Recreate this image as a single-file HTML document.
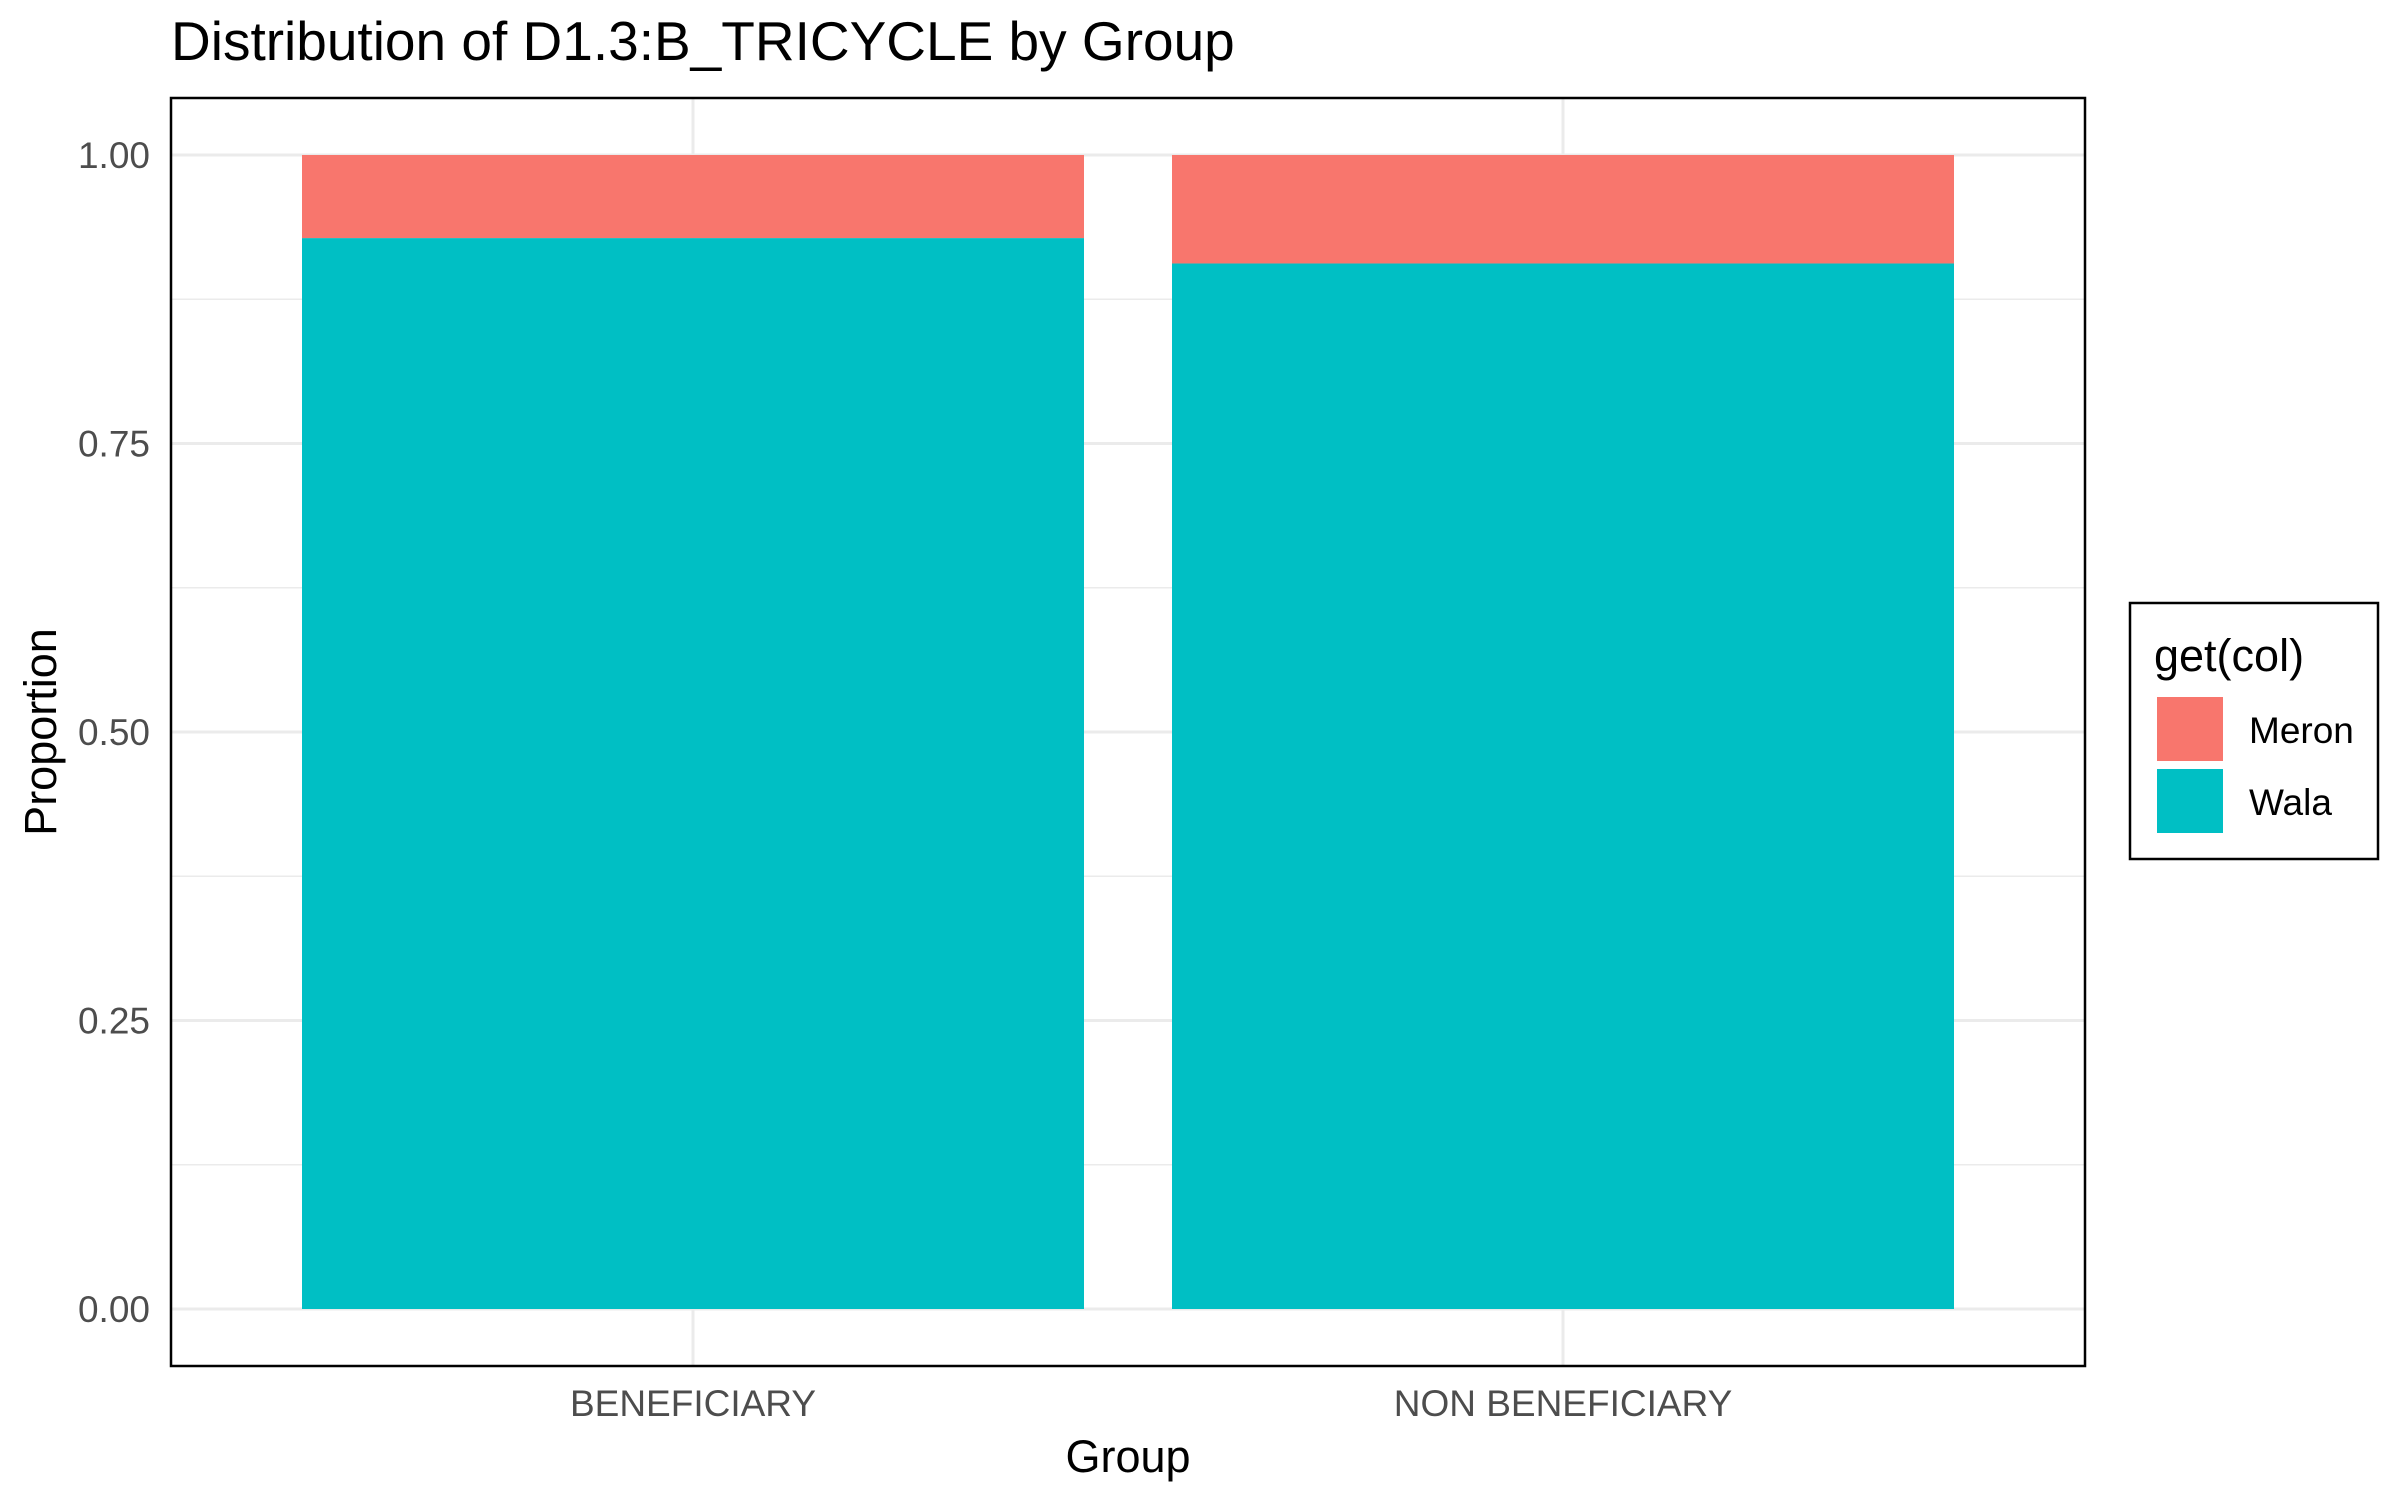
<!DOCTYPE html>
<html><head><meta charset="utf-8"><style>
html,body{margin:0;padding:0;background:#fff;}
svg{display:block;font-family:"Liberation Sans",Arial,sans-serif;}
</style></head><body>
<svg id="chart" width="2400" height="1500" viewBox="0 0 2400 1500">
<text x="171" y="60" font-size="55" fill="#000">Distribution of D1.3:B_TRICYCLE by Group</text>
<g id="grid"></g>
<g id="bars"></g>
<rect x="171" y="98" width="1914" height="1268" fill="none" stroke="#000" stroke-width="2.5"/>
<g id="yticks"></g>
<g id="xticks"></g>
<text x="1128" y="1472" font-size="45" text-anchor="middle" fill="#000">Group</text>
<text transform="translate(56,732) rotate(-90)" font-size="45" text-anchor="middle" fill="#000">Proportion</text>
<g>
<rect x="2130" y="603" width="248" height="256" fill="#fff" stroke="#000" stroke-width="2.5"/>
<text x="2154" y="671" font-size="45" fill="#000">get(col)</text>
<rect x="2157" y="697" width="66" height="64" fill="#F8766D"/>
<text x="2249" y="743" font-size="37" fill="#000">Meron</text>
<rect x="2157" y="769" width="66" height="64" fill="#00BFC4"/>
<text x="2249" y="815" font-size="37" fill="#000">Wala</text>
</g>
</svg>
<script>
const categories = ["BENEFICIARY", "NON BENEFICIARY"];
const walaValues = [0.928, 0.906];
const meronValues = [0.072, 0.094];
const yTicks = [0, 0.25, 0.5, 0.75, 1.0];
const yTickLabels = ["0.00", "0.25", "0.50", "0.75", "1.00"];

const NS = "http://www.w3.org/2000/svg";
const y0 = 1309, y1 = 155;
function yScale(v){ return y0 + (y1 - y0) * v; }
const xStart = 171, xEnd = 2085;
function xCenter(i){ return 693 + i * 870; }
const barW = 782;
function mk(tag, attrs, parent){ const e = document.createElementNS(NS, tag); for (const k in attrs) e.setAttribute(k, attrs[k]); parent.appendChild(e); return e; }

const grid = document.getElementById('grid');
for (let i = 0; i < yTicks.length; i++) {
  const l = mk('line', {x1: xStart, x2: xEnd, y1: yScale(yTicks[i]), y2: yScale(yTicks[i]), stroke: '#EBEBEB', 'stroke-width': 3}, grid);
  
  
  if (i < yTicks.length - 1) {
    const m = (yTicks[i] + yTicks[i+1]) / 2;
    const ml = mk('line', {x1: xStart, x2: xEnd, y1: yScale(m), y2: yScale(m), stroke: '#EBEBEB', 'stroke-width': 1.5}, grid);
    
    
  }
}
categories.forEach((c, i) => {
  const l = mk('line', {x1: xCenter(i), x2: xCenter(i), y1: 98, y2: 1366, stroke: '#EBEBEB', 'stroke-width': 3}, grid);
  
  
});

const bars = document.getElementById('bars');
categories.forEach((c, i) => {
  const x = xCenter(i) - barW / 2;
  const w = walaValues[i], m = meronValues[i];
  const rw = mk('rect', {x: x, width: barW, y: yScale(w), height: yScale(0) - yScale(w), fill: '#00BFC4'}, bars);
  
  
  const rm = mk('rect', {x: x, width: barW, y: yScale(w + m), height: yScale(w) - yScale(w + m), fill: '#F8766D'}, bars);
  
  
});

const yt = document.getElementById('yticks');
yTicks.forEach((v, i) => {
  const t = mk('text', {x: 150, y: yScale(v) + 13, 'font-size': 37, 'text-anchor': 'end', fill: '#4D4D4D'}, yt);
  t.textContent = yTickLabels[i];
  
  
});
const xt = document.getElementById('xticks');
categories.forEach((c, i) => {
  const t = mk('text', {x: xCenter(i), y: 1416, 'font-size': 37, 'text-anchor': 'middle', fill: '#4D4D4D'}, xt);
  t.textContent = c;
  
  
});
</script>
</body></html>
